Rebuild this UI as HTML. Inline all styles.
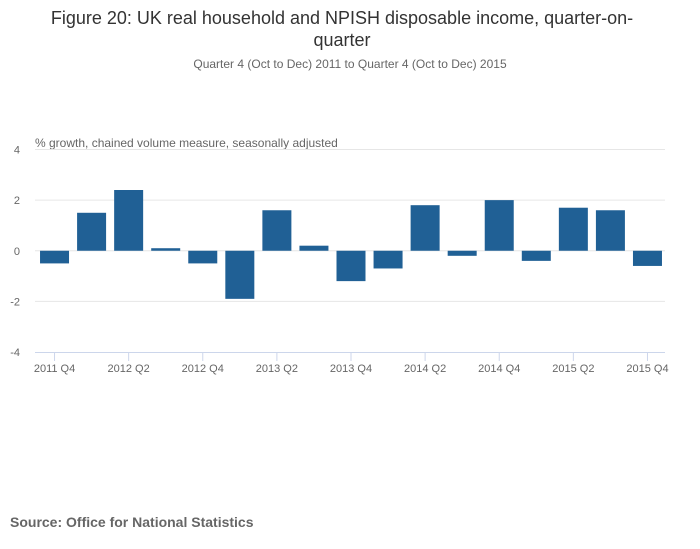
<!DOCTYPE html>
<html><head><meta charset="utf-8">
<style>
body{margin:0;background:#fff;font-family:"Liberation Sans",sans-serif;}
#wrap{position:relative;width:700px;height:549px;overflow:hidden;}
</style></head>
<body>
<div id="wrap">
<svg id="chart" width="700" height="549">
  <text x="342" y="24" text-anchor="middle" font-size="18" fill="#333">Figure 20: UK real household and NPISH disposable income, quarter-on-</text>
  <text x="342" y="46" text-anchor="middle" font-size="18" fill="#333">quarter</text>
  <text x="350" y="68" text-anchor="middle" font-size="12" fill="#666">Quarter 4 (Oct to Dec) 2011 to Quarter 4 (Oct to Dec) 2015</text>
  <text x="35" y="147" font-size="12" fill="#666">% growth, chained volume measure, seasonally adjusted</text>
  <g id="grid"></g>
  <g id="bars"></g>
  <g id="xaxis"></g>
  <text x="10" y="527" font-size="14" font-weight="bold" fill="#666">Source: Office for National Statistics</text>
</svg>
</div>
<script>
const categories = ["2011 Q4","2012 Q1","2012 Q2","2012 Q3","2012 Q4","2013 Q1","2013 Q2","2013 Q3","2013 Q4","2014 Q1","2014 Q2","2014 Q3","2014 Q4","2015 Q1","2015 Q2","2015 Q3","2015 Q4"];
const values = [-0.5,1.5,2.4,0.1,-0.5,-1.9,1.6,0.2,-1.2,-0.7,1.8,-0.2,2.0,-0.4,1.7,1.6,-0.6];
const yTicks = [4,2,0,-2,-4];

const NS="http://www.w3.org/2000/svg";
const plotLeft=35,plotRight=665,plotTop=149.5,plotBottom=352;
const yMin=-4,yMax=4;
function yScale(v){return plotBottom-(v-yMin)/(yMax-yMin)*(plotBottom-plotTop);}
const step=(plotRight-plotLeft)/categories.length;
function xc(i){return plotLeft+step*(i+0.5)+1;}
function mk(tag,attrs,parent){const e=document.createElementNS(NS,tag);for(const k in attrs)e.setAttribute(k,attrs[k]);parent.appendChild(e);return e;}

const grid=document.getElementById('grid');
yTicks.forEach(t=>{
  if(t!==yMin){
    const l=mk('line',{x1:plotLeft,x2:plotRight,y1:yScale(t),y2:yScale(t),stroke:'#e6e6e6','stroke-width':1},grid);
    
    
  }
  const tx=mk('text',{x:20,y:yScale(t)+4,'text-anchor':'end','font-size':11,fill:'#666'},grid);
  tx.textContent=t;
  
  
});

const bars=document.getElementById('bars');
values.forEach((v,i)=>{
  const bw=29;
  const y0=yScale(0),y1=yScale(v);
  const r=mk('rect',{x:xc(i)-bw/2,y:Math.min(y0,y1),width:bw,height:Math.max(1,Math.abs(y1-y0)),fill:'#206095'},bars);
  
  
});

const xa=document.getElementById('xaxis');
const ax=mk('line',{x1:plotLeft,x2:plotRight,y1:plotBottom+0.5,y2:plotBottom+0.5,stroke:'#ccd6eb','stroke-width':1},xa);


categories.forEach((c,i)=>{
  if(i%2!==0)return;
  const t=mk('line',{x1:xc(i),x2:xc(i),y1:plotBottom,y2:plotBottom+9,stroke:'#ccd6eb','stroke-width':1},xa);
  
  
  const tx=mk('text',{x:xc(i),y:plotBottom+20,'text-anchor':'middle','font-size':11,fill:'#666'},xa);
  tx.textContent=c;
  
  
});
</script>
</body></html>
